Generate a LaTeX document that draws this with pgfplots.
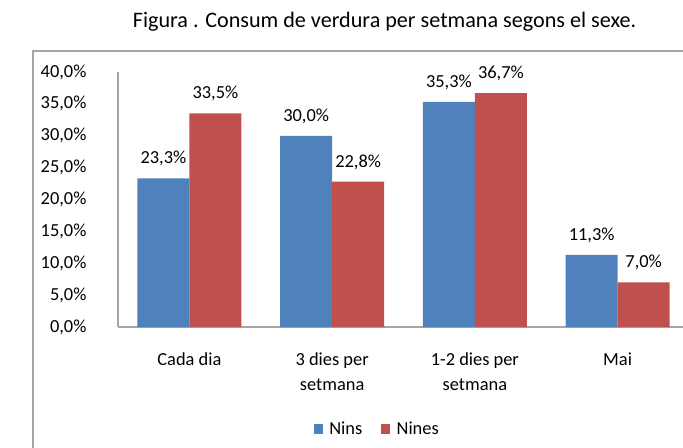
\documentclass[border=0pt]{standalone}
\usepackage{pgfplots}
\pgfplotsset{compat=1.18}
\usepackage{fontspec}
\setmainfont{Carlito}
\definecolor{nins}{HTML}{4F81BD}
\definecolor{nines}{HTML}{C0504D}
\definecolor{frame}{HTML}{A6A6A6}
\begin{document}
\begin{tikzpicture}
\useasboundingbox (0pt,0pt) rectangle (512.25pt,335.25pt);
\draw[frame, line width=1.1pt] (24.75pt,-5pt) -- (24.75pt,297pt) -- (520pt,297pt);
\node[font=\fontsize{16.6}{20}\selectfont] at (288.4pt,318.75pt) {Figura . Consum de verdura per setmana segons el sexe.};
\begin{axis}[
  at={(88.5pt,90pt)}, anchor=south west,
  scale only axis,
  width=428.25pt, height=191.25pt,
  ybar=0pt, bar width=39pt,
  xmin=-0.5, xmax=3.5, ymin=0, ymax=40,
  xtick=data,
  xticklabels={Cada dia, {3 dies per\\setmana}, {1-2 dies per\\setmana}, Mai},
  ytick={0,5,...,40},
  axis x line=bottom, axis y line=left,
  axis line style={-, draw=frame, line width=0.9pt},
  major tick length=0pt,
  tick style={draw=none},
  /pgf/number format/assume math mode=true,
  tick label style={font=\fontsize{13.8}{18.5}\selectfont, text=black},
  yticklabel={\pgfmathprintnumber[fixed,fixed zerofill,precision=1,use comma]{\tick}\%},
  yticklabel style={anchor=east, inner sep=0pt, xshift=-23.5pt},
  xticklabel style={anchor=north, align=center, inner sep=0pt, yshift=-19pt},
  nodes near coords={\pgfmathprintnumber[fixed,fixed zerofill,precision=1,use comma]{\pgfplotspointmeta}\%},
  nodes near coords style={font=\fontsize{13.8}{18.5}\selectfont, text=black, anchor=south, inner sep=0pt, yshift=9pt},
  legend columns=2,
  legend style={at={(0.455,-0.4)}, anchor=center, draw=none, fill=none,
    font=\fontsize{13.8}{18.5}\selectfont,
    /tikz/every even column/.append style={column sep=12pt}},
  legend image code/.code={\fill[#1] (0pt,-3.4pt) rectangle (6.8pt,3.4pt);},
  clip=false,
]
\addplot[fill=nins, draw=none] coordinates {(0,23.3) (1,30.0) (2,35.3) (3,11.3)};
\addplot[fill=nines, draw=none] coordinates {(0,33.5) (1,22.8) (2,36.7) (3,7.0)};
\legend{\hspace{2.5pt}Nins, \hspace{3pt}Nines}
\end{axis}
\end{tikzpicture}
\end{document}
